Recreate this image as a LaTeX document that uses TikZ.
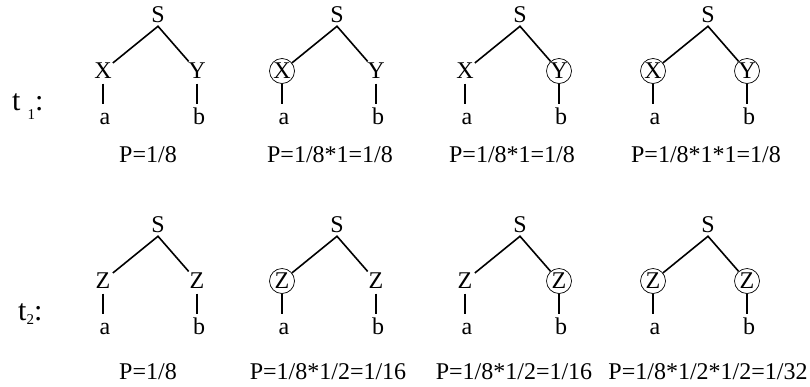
\documentclass[tikz,border=0pt]{standalone}
\usepackage{fontspec}
\setmainfont{Liberation Serif}
\tikzset{
  lbl/.style={font=\fontsize{24}{28}\selectfont, inner sep=0pt},
  inner/.style={lbl, circle, minimum size=25pt},
  plain/.style={inner},
  marked/.style={inner, draw, line width=0.7pt},
  leaf/.style={lbl, anchor=base, text height=20pt},
  edge/.style={line width=1.6pt},
  tlabel/.style={anchor=base west, inner sep=0pt, font=\fontsize{30}{36}\selectfont},
}
\newcommand{\subidx}[2]{\raisebox{#1}{\fontsize{15}{18}\selectfont #2}}
\begin{document}
\begin{tikzpicture}[x=1pt,y=-1pt]
\useasboundingbox (0,0) rectangle (810,386);

% row labels
\node[tlabel] (t1) at (12,110) {t\hspace{7pt}\subidx{-9pt}{1}:};
\node[tlabel] (t2) at (18,320) {t\subidx{-4pt}{2}:};

% the eight trees: two rows, four trees per row
\foreach \r/\dy/\L/\R in {1/0/X/Y, 2/210/Z/Z}{
  \foreach \k/\lx/\ls/\rs in {1/103/plain/plain, 2/282/marked/plain,
                              3/465/plain/marked, 4/653/marked/marked}{
    \node[lbl] (S\r\k) at (\lx+55, 15+\dy) {S};
    \node[\ls] (L\r\k) at (\lx, 71+\dy) {\L};
    \node[\rs] (R\r\k) at (\lx+94, 71+\dy) {\R};
    \node[leaf] (a\r\k) at (\lx+2, 124+\dy) {a};
    \node[leaf] (b\r\k) at (\lx+96, 124+\dy) {b};
    \coordinate (J\r\k) at ([yshift=-3pt]S\r\k.south);
    \draw[edge] (L\r\k) -- (J\r\k) -- (R\r\k);
    \draw[edge] (L\r\k) -- (L\r\k |- a\r\k.north);
    \draw[edge] (R\r\k) -- (R\r\k |- b\r\k.north);
  }
}

% probabilities
\node[lbl] (p11) at (148,155) {P=1/8};
\node[lbl] (p12) at (330,155) {P=1/8*1=1/8};
\node[lbl] (p13) at (512,155) {P=1/8*1=1/8};
\node[lbl] (p14) at (706,155) {P=1/8*1*1=1/8};
\node[lbl] (p21) at (148,372) {P=1/8};
\node[lbl] (p22) at (328,372) {P=1/8*1/2=1/16};
\node[lbl] (p23) at (514,372) {P=1/8*1/2=1/16};
\node[lbl] (p24) at (708,372) {P=1/8*1/2*1/2=1/32};
\end{tikzpicture}
\end{document}
